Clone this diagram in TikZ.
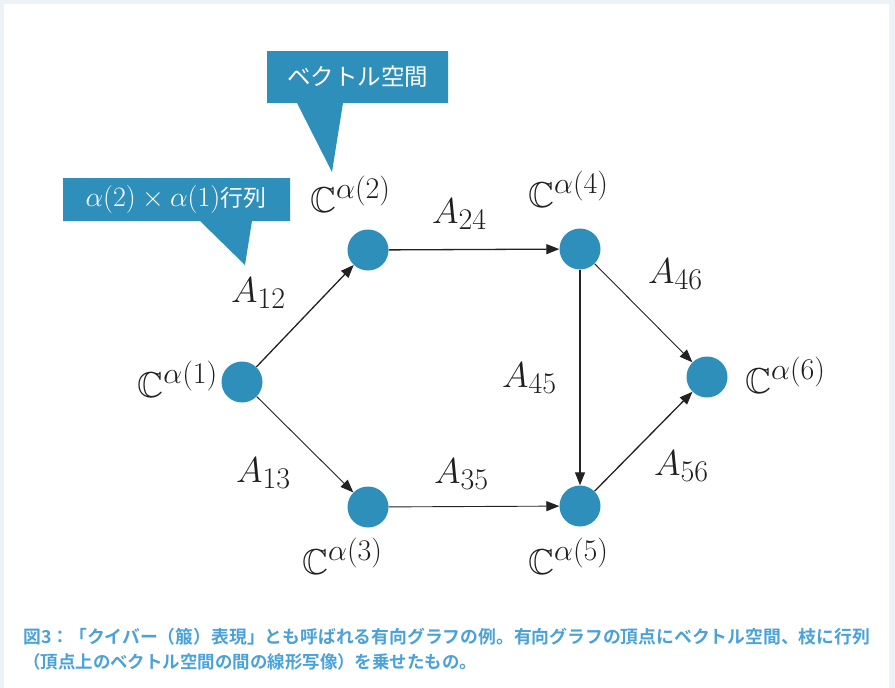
\RequirePackage{fix-cm}
\documentclass[tikz,border=0pt]{standalone}
\DeclareFontFamily{U}{msb}{}
\DeclareFontShape{U}{msb}{m}{n}{<-6> msbm5 <6-8> msbm7 <8-> msbm10}{}
\usepackage{amssymb}
\usepackage{fontspec}
\newfontfamily\cjk{Noto Sans CJK JP}
\newfontfamily\cjkbold{Noto Sans CJK JP Bold}
\usetikzlibrary{arrows.meta}
\DeclareMathSizes{36}{36}{30}{24}
\DeclareMathSizes{28}{28}{20}{15}
\definecolor{qblue}{HTML}{2E8FBA}
\definecolor{capblue}{HTML}{4AA2D8}
\definecolor{bgstrip}{HTML}{ECF2F5}
\definecolor{arrowc}{HTML}{222222}
\tikzset{
  vert/.style={circle,fill=qblue,minimum size=41pt,inner sep=0pt},
  lab/.style={font=\fontsize{36}{40}\selectfont,inner sep=0pt,text=black!88},
  qedge/.style={-{Triangle[length=13pt,width=10pt]},draw=arrowc,line width=1.3pt},
  qedgethin/.style={qedge,line width=0.9pt},
  callout/.style={fill=qblue,draw=none},
  calltext/.style={inner sep=0pt,text=white},
  captext/.style={inner sep=0pt,anchor=base west,text=capblue}
}
\begin{document}
\begin{tikzpicture}[x=1pt,y=-1pt]
\useasboundingbox (0,0) rectangle (895,688);
\fill[bgstrip] (0,0) rectangle (895,688);
\fill[white] (4,4) rectangle (889,688);

% vertices
\node[vert] (v1) at (242,382) {};
\node[vert] (v2) at (368,250) {};
\node[vert] (v3) at (368,507) {};
\node[vert] (v4) at (580,249) {};
\node[vert] (v5) at (580,506) {};
\node[vert] (v6) at (707,377) {};

% edges
\draw[qedge] (v1) -- (v2);
\draw[qedgethin] (v1) -- (v3);
\draw[qedge] (v2) -- (v4);
\draw[qedgethin] (v3) -- (v5);
\draw[qedge] (v4) -- (v5);
\draw[qedgethin] (v4) -- (v6);
\draw[qedge] (v5) -- (v6);

% vertex labels
\node[lab,anchor=base east] (c1) at (218,397) {$\mathbb{C}^{\alpha(1)}$};
\node[lab,anchor=base west] (c2) at (310,212) {$\mathbb{C}^{\alpha(2)}$};
\node[lab,anchor=base west] (c3) at (302,574) {$\mathbb{C}^{\alpha(3)}$};
\node[lab,anchor=base west] (c4) at (528,207) {$\mathbb{C}^{\alpha(4)}$};
\node[lab,anchor=base west] (c5) at (528,574) {$\mathbb{C}^{\alpha(5)}$};
\node[lab,anchor=base west] (c6) at (745,393) {$\mathbb{C}^{\alpha(6)}$};

% edge labels
\node[lab,anchor=base west] (a12) at (231,302) {$A_{12}$};
\node[lab,anchor=base west] (a13) at (236,482) {$A_{13}$};
\node[lab,anchor=base west] (a24) at (432,223) {$A_{24}$};
\node[lab,anchor=base west] (a35) at (434,483) {$A_{35}$};
\node[lab,anchor=base west] (a45) at (502,387) {$A_{45}$};
\node[lab,anchor=base west] (a46) at (648,283) {$A_{46}$};
\node[lab,anchor=base west] (a56) at (654,475) {$A_{56}$};

% callout: vector space
\fill[callout] (267,51) -- (448,51) -- (448,103) -- (343,103) -- (332,172) -- (297,103) -- (267,103) -- cycle;
\node[calltext,font=\cjk\fontsize{23.5}{26}\selectfont] (t1) at (357.5,77) {ベクトル空間};

% callout: matrix
\fill[callout] (63,178) -- (290,178) -- (290,221) -- (252,221) -- (245,265) -- (200,221) -- (63,221) -- cycle;
\node[calltext,font=\fontsize{28}{32}\selectfont] (t2) at (176,199.5) {$\alpha(2)\times\alpha(1)$\cjk\fontsize{23}{26}\selectfont 行列};

% caption
\node[captext] (cap1) at (23,643) {\resizebox{847pt}{!}{\cjkbold\fontsize{18}{20}\selectfont 図3：「クイバー（箙）表現」とも呼ばれる有向グラフの例。有向グラフの頂点にベクトル空間、枝に行列}};
\node[captext] (cap2) at (23,668) {\resizebox{454pt}{!}{\cjkbold\fontsize{18}{20}\selectfont （頂点上のベクトル空間の間の線形写像）を乗せたもの。}};
\end{tikzpicture}
\end{document}
